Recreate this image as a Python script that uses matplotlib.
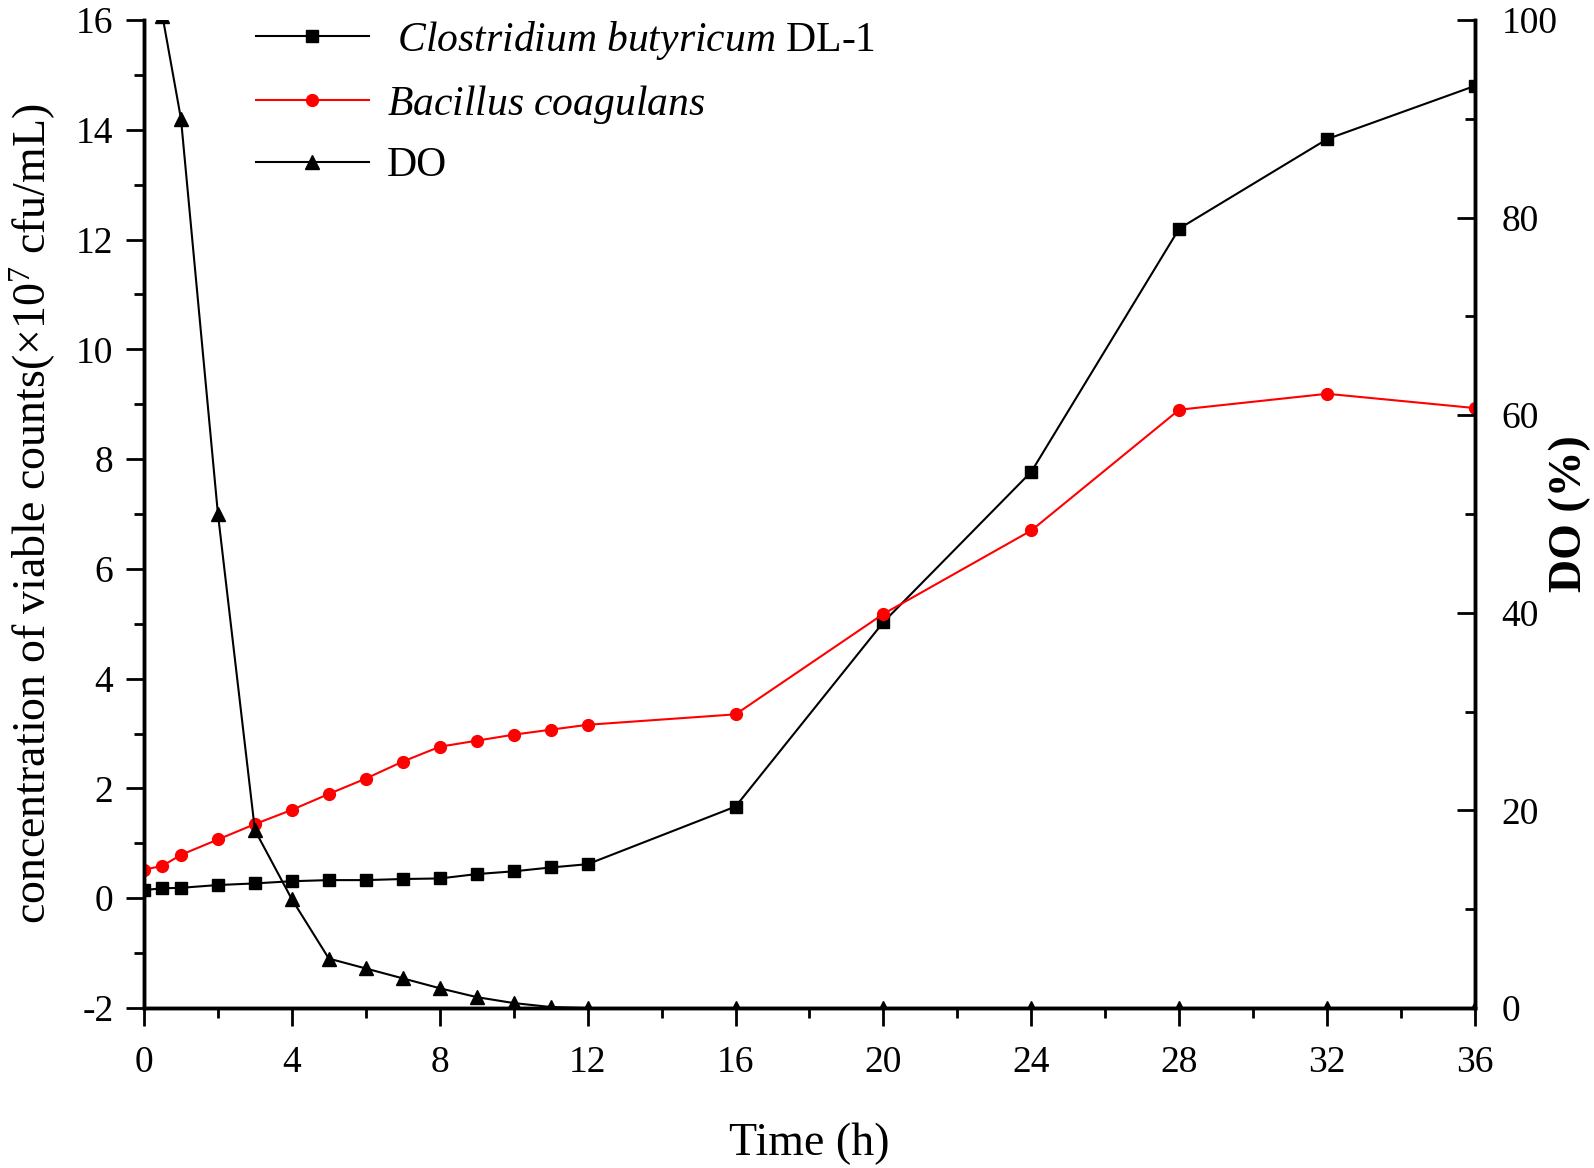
import matplotlib
matplotlib.use("Agg")
import matplotlib.pyplot as plt
from matplotlib.ticker import MultipleLocator

plt.rcParams['font.family'] = ['Liberation Serif', 'DejaVu Serif']
plt.rcParams['mathtext.fontset'] = 'custom'
plt.rcParams['mathtext.rm'] = 'Liberation Serif'
plt.rcParams['mathtext.it'] = 'Liberation Serif:italic'
plt.rcParams['axes.unicode_minus'] = False

time = [0, 0.5, 1, 2, 3, 4, 5, 6, 7, 8, 9, 10, 11, 12, 16, 20, 24, 28, 32, 36]
clostridium = [0.15, 0.18, 0.19, 0.24, 0.27, 0.31, 0.33, 0.33, 0.35, 0.36, 0.44,
               0.49, 0.56, 0.62, 1.67, 5.03, 7.77, 12.2, 13.83, 14.8]
bacillus = [0.52, 0.59, 0.79, 1.07, 1.35, 1.61, 1.90, 2.18, 2.49, 2.76, 2.87,
            2.98, 3.07, 3.16, 3.35, 5.18, 6.70, 8.90, 9.19, 8.93]
do_pct = [101, 100.4, 90, 50, 18, 11, 5.0, 4.0, 3.0, 2.0, 1.1, 0.5, 0.1, 0,
          0, 0, 0, 0, 0, 0]

labels = [r" $\it{Clostridium\ butyricum}$ DL-1", r"$\it{Bacillus\ coagulans}$", "DO"]

fig = plt.figure(figsize=(15.94, 11.68), dpi=100)
ax = fig.add_axes([144/1594, 1 - 1008/1168, (1475-144)/1594, (1008-20)/1168])
ax2 = ax.twinx()

l1, = ax.plot(time, clostridium, color='black', lw=1.5, marker='s', ms=8,
              label=labels[0])
l2, = ax.plot(time, bacillus, color='red', lw=1.5, marker='o', ms=8.5,
              label=labels[1])
l3, = ax2.plot(time, do_pct, color='black', lw=1.5, marker='^', ms=9.5,
               label=labels[2])

ax.set_xlim(0, 36)
ax.set_ylim(-2, 16)
ax2.set_ylim(0, 100)

ax.xaxis.set_major_locator(MultipleLocator(4))
ax.xaxis.set_minor_locator(MultipleLocator(2))
ax.yaxis.set_major_locator(MultipleLocator(2))
ax.yaxis.set_minor_locator(MultipleLocator(1))
ax2.yaxis.set_major_locator(MultipleLocator(20))
ax2.yaxis.set_minor_locator(MultipleLocator(10))

for a in (ax, ax2):
    a.spines['top'].set_visible(False)
    for s in a.spines.values():
        s.set_linewidth(2.5)

ax.tick_params(axis='both', which='major', direction='out', length=13, width=2,
               labelsize=27)
ax.tick_params(axis='y', which='major', pad=9)
ax.tick_params(axis='x', which='major', pad=14)
ax.tick_params(axis='both', which='minor', direction='out', length=7, width=2)
ax2.tick_params(axis='y', which='major', direction='in', length=13, width=2,
                labelsize=27, pad=19)
ax2.tick_params(axis='y', which='minor', direction='in', length=7, width=2)

ax.set_xlabel("Time (h)", fontsize=33, labelpad=31)
ax.set_ylabel(r"concentration of viable counts(×10$^{7}$ cfu/mL)", fontsize=33,
              labelpad=13)
ax2.set_ylabel("DO (%)", fontsize=33, fontweight='bold', labelpad=-6)

fig.legend(handles=[l1, l2, l3], labels=labels, loc='upper left',
           bbox_to_anchor=(256/1594, 1 - 19/1168), bbox_transform=fig.transFigure,
           frameon=False, fontsize=30, handlelength=2.7, handletextpad=0.45,
           labelspacing=0.5, borderpad=0, borderaxespad=0)

fig.savefig("out.png", dpi=100)
